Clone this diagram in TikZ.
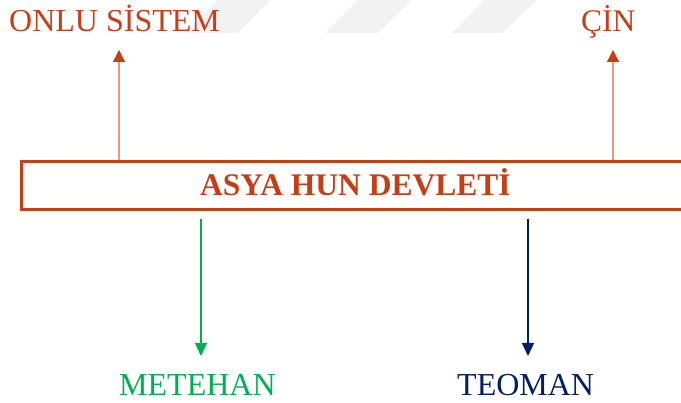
\documentclass[tikz,border=0pt]{standalone}
\usepackage{fontspec}
\setmainfont{Liberation Serif}
\usepackage{xcolor}
\usetikzlibrary{calc,arrows.meta}
\definecolor{hunred}{RGB}{198,62,22}
\definecolor{hunline}{RGB}{236,152,128}
\definecolor{hungreen}{RGB}{0,176,80}
\definecolor{hunnavy}{RGB}{0,32,96}
\definecolor{hunmark}{RGB}{242,242,242}

\begin{document}
\begin{tikzpicture}[x=1pt,y=-1pt,
  halk/.style={font=\fontsize{32}{38}\selectfont, inner sep=0pt, anchor=base west},
  yukari/.style={hunline, line width=1.3pt, -{Triangle[length=12pt,width=12pt,color=hunred]}},
  asagi/.style={line width=1.3pt, shorten <=8pt, -{Triangle[length=13pt,width=12pt]}}]
  \useasboundingbox (0,0) rectangle (681,403);
  % faint stripes at the top
  \fill[hunmark] (218,0) -- (270,0) -- (238,33) -- (186,33) -- cycle;
  \fill[hunmark] (358,0) -- (412,0) -- (378,33) -- (325,33) -- cycle;
  \fill[hunmark] (484,0) -- (537,0) -- (502,33) -- (452,33) -- cycle;
  % main box, runs off the right edge
  \node[draw=hunred, line width=2.6pt, minimum width=700pt, minimum height=48pt,
    inner sep=0pt, anchor=north west] (devlet) at (20,160) {};
  \node[font=\bfseries\fontsize{31.5}{36}\selectfont, text=hunred, inner sep=0pt,
    anchor=base west] (baslik) at (200,196) {ASYA HUN DEVLETİ};
  % top labels
  \node[halk, text=hunred] (onlu) at (9,32) {ONLU SİSTEM};
  \node[halk, text=hunred, font=\fontsize{31.5}{37}\selectfont] (cin) at (581,32) {ÇİN};
  % bottom labels
  \node[halk, text=hungreen] (metehan) at (119,396) {METEHAN};
  \node[halk, text=hunnavy] (teoman) at (457,396) {TEOMAN};
  \coordinate (onlutip) at (119,50);
  \coordinate (cintip) at (613,50);
  \coordinate (metetip) at (201,356);
  \coordinate (teotip) at (528,356);
  \draw[yukari] (onlutip |- devlet.north) -- (onlutip);
  \draw[yukari] (cintip |- devlet.north) -- (cintip);
  \draw[asagi, hungreen] (metetip |- devlet.south) -- (metetip);
  \draw[asagi, hunnavy] (teotip |- devlet.south) -- (teotip);
\end{tikzpicture}
\end{document}
